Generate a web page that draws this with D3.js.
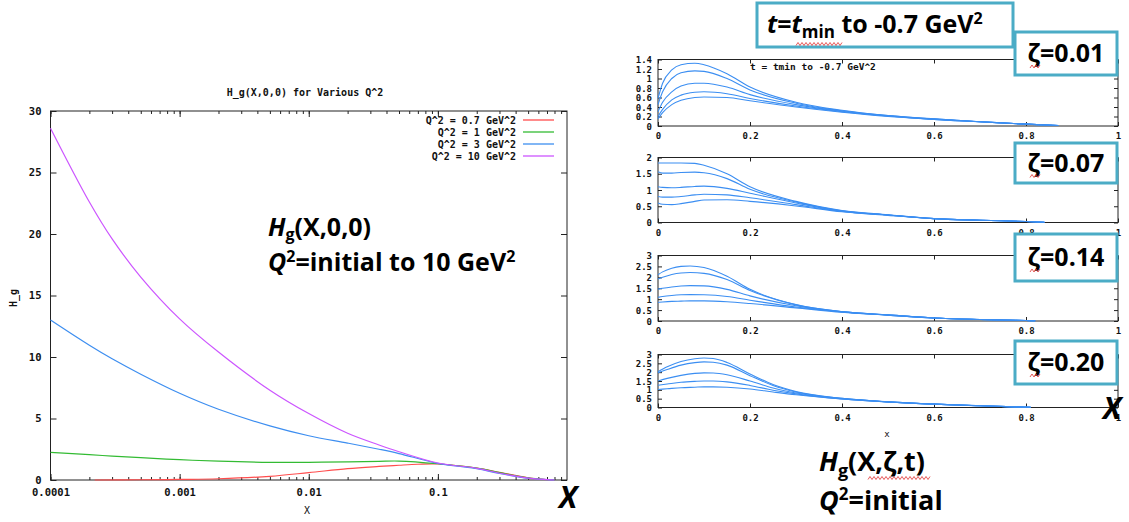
<!DOCTYPE html>
<html>
<head>
<meta charset="utf-8">
<script src="https://cdn.jsdelivr.net/npm/d3@7"></script>
<style>
  body { margin: 0; background: #fff; }
  svg { display: block; }
  .gp text { font-family: "DejaVu Sans Mono", monospace; font-weight: bold; fill: #111; }
  .note { font-family: "Open Sans", Lato, sans-serif; font-weight: 700; fill: #000; }
</style>
</head>
<body>
<div id="chart"></div>
<script>
// ---- left chart data: H_g(X,0,0) for various Q^2 ----
const seriesNames = ["Q^2 = 0.7 GeV^2", "Q^2 = 1 GeV^2", "Q^2 = 3 GeV^2", "Q^2 = 10 GeV^2"];
const seriesColors = ["#ff4d4d", "#33bb33", "#3d8ef0", "#cc55ff"];
const xCommon = [0.0001, 0.0002, 0.0003, 0.0005, 0.001, 0.002, 0.005, 0.01, 0.02, 0.035, 0.05, 0.1, 0.2, 0.3, 0.5, 0.7, 0.8];
const xRed = [0.00022, 0.0005, 0.001, 0.002, 0.005, 0.01, 0.02, 0.035, 0.05, 0.07, 0.1, 0.2, 0.3, 0.5, 0.7, 0.8];
const hgQ07 = [0.0, 0.02, 0.05, 0.1, 0.3, 0.6, 0.92, 1.1, 1.2, 1.28, 1.3, 0.97, 0.62, 0.18, 0.03, 0.0];
const hgQ1 = [2.25, 2.06, 1.94, 1.82, 1.65, 1.53, 1.44, 1.44, 1.47, 1.52, 1.54, 1.32, 0.97, 0.6, 0.17, 0.03, 0.0];
const hgQ3 = [13.0, 10.95, 9.85, 8.6, 7.05, 5.75, 4.4, 3.6, 3.0, 2.5, 2.15, 1.35, 0.92, 0.53, 0.14, 0.03, 0.0];
const hgQ10 = [28.6, 22.6, 19.6, 16.5, 13.1, 10.4, 7.3, 5.4, 3.8, 2.85, 2.3, 1.38, 0.95, 0.55, 0.15, 0.03, 0.0];
const leftXTicks = [0.0001, 0.001, 0.01, 0.1];
const leftXLabels = ["0.0001", "0.001", "0.01", "0.1"];
const leftYTicks = [0, 5, 10, 15, 20, 25, 30];

// ---- right panels: H_g(X,zeta,t), t = tmin .. -0.7 GeV^2 ----
const zetaLabels = ["0.01", "0.07", "0.14", "0.20"];
const xZ001 = [0, 0.01, 0.03, 0.05, 0.08, 0.1, 0.15, 0.2, 0.3, 0.4, 0.5, 0.6, 0.7, 0.8, 0.87];
const z001 = [
  [0.58, 0.9, 1.18, 1.29, 1.32, 1.29, 1.1, 0.82, 0.5, 0.33, 0.22, 0.15, 0.09, 0.04, 0.01],
  [0.45, 0.72, 1.0, 1.12, 1.16, 1.15, 1.0, 0.76, 0.48, 0.32, 0.22, 0.15, 0.09, 0.04, 0.01],
  [0.3, 0.5, 0.72, 0.84, 0.9, 0.9, 0.82, 0.66, 0.45, 0.31, 0.21, 0.14, 0.09, 0.04, 0.01],
  [0.2, 0.35, 0.55, 0.65, 0.71, 0.72, 0.68, 0.58, 0.42, 0.3, 0.21, 0.14, 0.09, 0.04, 0.01],
  [0.15, 0.28, 0.45, 0.54, 0.6, 0.61, 0.6, 0.53, 0.4, 0.29, 0.2, 0.14, 0.09, 0.04, 0.01]
];
const xZ007 = [0, 0.01, 0.03, 0.05, 0.08, 0.1, 0.15, 0.2, 0.3, 0.4, 0.5, 0.6, 0.7, 0.8, 0.84];
const z007 = [
  [1.83, 1.83, 1.83, 1.83, 1.82, 1.76, 1.5, 1.1, 0.65, 0.37, 0.24, 0.12, 0.07, 0.03, 0.01],
  [1.56, 1.52, 1.52, 1.54, 1.55, 1.53, 1.35, 1.02, 0.63, 0.36, 0.23, 0.12, 0.07, 0.03, 0.01],
  [1.1, 1.08, 1.07, 1.08, 1.11, 1.12, 1.05, 0.9, 0.6, 0.35, 0.23, 0.12, 0.07, 0.03, 0.01],
  [0.8, 0.78, 0.78, 0.8, 0.85, 0.87, 0.85, 0.76, 0.55, 0.34, 0.23, 0.12, 0.07, 0.03, 0.01],
  [0.6, 0.56, 0.55, 0.58, 0.65, 0.69, 0.7, 0.65, 0.51, 0.33, 0.22, 0.12, 0.07, 0.03, 0.01]
];
const xZ014 = [0, 0.01, 0.03, 0.05, 0.07, 0.1, 0.15, 0.2, 0.3, 0.4, 0.5, 0.6, 0.7, 0.8, 0.82];
const z014 = [
  [2.12, 2.25, 2.42, 2.5, 2.52, 2.45, 2.05, 1.45, 0.75, 0.43, 0.28, 0.14, 0.07, 0.02, 0.01],
  [1.92, 2.0, 2.13, 2.2, 2.22, 2.18, 1.9, 1.4, 0.74, 0.43, 0.28, 0.14, 0.07, 0.02, 0.01],
  [1.46, 1.5, 1.56, 1.6, 1.62, 1.61, 1.45, 1.15, 0.7, 0.42, 0.27, 0.14, 0.07, 0.02, 0.01],
  [1.08, 1.12, 1.17, 1.2, 1.21, 1.2, 1.12, 0.95, 0.64, 0.41, 0.27, 0.14, 0.07, 0.02, 0.01],
  [0.85, 0.87, 0.9, 0.91, 0.92, 0.92, 0.88, 0.8, 0.6, 0.4, 0.27, 0.14, 0.07, 0.02, 0.01]
];
const xZ020 = [0, 0.02, 0.05, 0.08, 0.1, 0.12, 0.15, 0.2, 0.25, 0.3, 0.4, 0.5, 0.6, 0.7, 0.81];
const z020 = [
  [2.02, 2.3, 2.6, 2.76, 2.8, 2.77, 2.55, 1.9, 1.3, 0.9, 0.52, 0.32, 0.19, 0.1, 0.01],
  [1.96, 2.15, 2.4, 2.54, 2.58, 2.56, 2.4, 1.8, 1.25, 0.88, 0.52, 0.32, 0.19, 0.1, 0.01],
  [1.5, 1.65, 1.82, 1.93, 1.96, 1.95, 1.85, 1.5, 1.1, 0.82, 0.5, 0.32, 0.19, 0.1, 0.01],
  [1.26, 1.33, 1.43, 1.48, 1.5, 1.5, 1.45, 1.25, 0.98, 0.77, 0.49, 0.31, 0.19, 0.1, 0.01],
  [1.02, 1.06, 1.12, 1.15, 1.17, 1.17, 1.15, 1.05, 0.88, 0.72, 0.48, 0.31, 0.19, 0.1, 0.01]
];
const rightXTicks = [0, 0.2, 0.4, 0.6, 0.8, 1];
const rightXLabels = ["0", "0.2", "0.4", "0.6", "0.8", "1"];
const yTicks14 = [0, 0.2, 0.4, 0.6, 0.8, 1, 1.2, 1.4];
const yTicks2 = [0, 0.5, 1, 1.5, 2];
const yTicks3 = [0, 0.5, 1, 1.5, 2, 2.5, 3];

const W = 1129, H = 522;
const svg = d3.select("#chart").append("svg").attr("width", W).attr("height", H);
const boxColor = "#4bacc6";

// ================= left chart =================
const gl = svg.append("g").attr("class", "gp");
const xL = d3.scaleLog().domain([1e-4, 1]).range([50.5, 567]);
const yL = d3.scaleLinear().domain([0, 30]).range([480, 111]);

gl.append("rect")
  .attr("x", 50.5).attr("y", 111)
  .attr("width", 567 - 50.5).attr("height", 480 - 111)
  .attr("fill", "none").attr("stroke", "#222").attr("stroke-width", 1);

const minorTicks = xL.ticks().filter(d => d < 1);

// bottom minor + major ticks, and labels
gl.append("g").attr("transform", "translate(0,480)")
  .call(d3.axisBottom(xL).tickValues(minorTicks).tickSize(-3).tickFormat(""))
  .call(g => g.select(".domain").remove());
gl.append("g").attr("transform", "translate(0,480)")
  .call(d3.axisBottom(xL).tickValues(leftXTicks).tickSize(-6).tickPadding(9)
    .tickFormat((d, i) => leftXLabels[i]))
  .call(g => g.select(".domain").remove())
  .call(g => g.selectAll("text").attr("font-size", 10.5).style("font-family", null));
// top mirrored ticks
gl.append("g").attr("transform", "translate(0,111)")
  .call(d3.axisTop(xL).tickValues(minorTicks).tickSize(-3).tickFormat(""))
  .call(g => g.select(".domain").remove());
gl.append("g").attr("transform", "translate(0,111)")
  .call(d3.axisTop(xL).tickValues(leftXTicks).tickSize(-6).tickFormat(""))
  .call(g => g.select(".domain").remove());
// y axes
gl.append("g").attr("transform", "translate(50.5,0)")
  .call(d3.axisLeft(yL).tickValues(leftYTicks).tickSize(-6).tickPadding(9))
  .call(g => g.select(".domain").remove())
  .call(g => g.selectAll("text").attr("font-size", 10.5).style("font-family", null));
gl.append("g").attr("transform", "translate(567,0)")
  .call(d3.axisRight(yL).tickValues(leftYTicks).tickSize(-6).tickFormat(""))
  .call(g => g.select(".domain").remove());
gl.selectAll(".tick line").attr("stroke", "#222");

gl.append("text").attr("x", 305).attr("y", 96).attr("text-anchor", "middle")
  .attr("font-size", 10).text("H_g(X,0,0) for Various Q^2");
gl.append("text").attr("transform", "translate(17,298) rotate(-90)")
  .attr("text-anchor", "middle").attr("font-size", 10).text("H_g");
gl.append("text").attr("x", 307).attr("y", 514).attr("text-anchor", "middle")
  .attr("font-size", 10).style("font-weight", "normal").text("X");

const leftSeries = [
  { xs: xRed, ys: hgQ07 },
  { xs: xCommon, ys: hgQ1 },
  { xs: xCommon, ys: hgQ3 },
  { xs: xCommon, ys: hgQ10 }
];
const lineL = d3.line().x(d => xL(d[0])).y(d => yL(d[1])).curve(d3.curveCatmullRom.alpha(0.5));
leftSeries.forEach((s, i) => {
  gl.append("path")
    .datum(s.xs.map((x, j) => [x, s.ys[j]]))
    .attr("fill", "none").attr("stroke", seriesColors[i]).attr("stroke-width", 1.2)
    .attr("d", lineL);
});

// legend
const leg = gl.append("g");
seriesNames.forEach((name, i) => {
  const y = 120 + i * 12;
  leg.append("text").attr("x", 516).attr("y", y + 3.5).attr("text-anchor", "end")
    .attr("font-size", 10).text(name);
  leg.append("line").attr("x1", 523).attr("x2", 554).attr("y1", y).attr("y2", y)
    .attr("stroke", seriesColors[i]).attr("stroke-width", 1.3);
});

// annotation
const a1 = svg.append("text").attr("class", "note").attr("x", 268).attr("y", 236).attr("font-size", 25);
a1.append("tspan").attr("font-style", "italic").text("H");
a1.append("tspan").attr("dy", 4).attr("font-size", 16).text("g");
a1.append("tspan").attr("dy", -4).text("(X,0,0)");
const a2 = svg.append("text").attr("class", "note").attr("x", 268).attr("y", 271).attr("font-size", 25);
a2.append("tspan").attr("font-style", "italic").text("Q");
a2.append("tspan").attr("dy", -9).attr("font-size", 16).text("2");
a2.append("tspan").attr("dy", 9).text("=initial to 10 GeV");
a2.append("tspan").attr("dy", -9).attr("font-size", 16).text("2");
svg.append("text").attr("class", "note").attr("x", 568).attr("y", 508)
  .attr("text-anchor", "middle").attr("font-size", 30).attr("font-style", "italic")
  .attr("font-weight", 800).text("X");

// ================= right panels =================
const gr = svg.append("g").attr("class", "gp");
const xR = d3.scaleLinear().domain([0, 1]).range([658, 1118]);
const panels = [
  { top: 59.5, bottom: 126, max: 1.4, ticks: yTicks14, xs: xZ001, curves: z001 },
  { top: 157.5, bottom: 222.5, max: 2, ticks: yTicks2, xs: xZ007, curves: z007 },
  { top: 255.5, bottom: 321, max: 3, ticks: yTicks3, xs: xZ014, curves: z014 },
  { top: 354.5, bottom: 407.5, max: 3, ticks: yTicks3, xs: xZ020, curves: z020 }
];
panels.forEach(p => {
  const y = d3.scaleLinear().domain([0, p.max]).range([p.bottom, p.top]);
  const g = gr.append("g");
  g.append("rect").attr("x", 658).attr("y", p.top)
    .attr("width", 1118 - 658).attr("height", p.bottom - p.top)
    .attr("fill", "none").attr("stroke", "#222").attr("stroke-width", 1);
  g.append("g").attr("transform", `translate(0,${p.bottom})`)
    .call(d3.axisBottom(xR).tickValues(rightXTicks).tickSize(-4).tickPadding(7)
      .tickFormat((d, i) => rightXLabels[i]))
    .call(s => s.select(".domain").remove())
    .call(s => s.selectAll("text").attr("font-size", 9).style("font-family", null));
  g.append("g").attr("transform", `translate(0,${p.top})`)
    .call(d3.axisTop(xR).tickValues(rightXTicks).tickSize(-4).tickFormat(""))
    .call(s => s.select(".domain").remove());
  g.append("g").attr("transform", "translate(658,0)")
    .call(d3.axisLeft(y).tickValues(p.ticks).tickSize(-4).tickPadding(6).tickFormat(d3.format("")))
    .call(s => s.select(".domain").remove())
    .call(s => s.selectAll("text").attr("font-size", 9).attr("dy", "0.35em").style("font-family", null));
  g.append("g").attr("transform", "translate(1118,0)")
    .call(d3.axisRight(y).tickValues(p.ticks).tickSize(-4).tickFormat(""))
    .call(s => s.select(".domain").remove());
  g.selectAll(".tick line").attr("stroke", "#222");

  const line = d3.line().x(d => xR(d[0])).y(d => y(d[1])).curve(d3.curveMonotoneX);
  p.curves.forEach(c => {
    g.append("path")
      .datum(p.xs.map((x, j) => [x, c[j]]))
      .attr("fill", "none").attr("stroke", "#3b8ef2").attr("stroke-width", 1.1)
      .attr("d", line);
  });
});
gr.append("text").attr("x", 750).attr("y", 70).attr("font-size", 9.5)
  .text("t = tmin to -0.7 GeV^2");
gr.append("text").attr("x", 887).attr("y", 437).attr("text-anchor", "middle")
  .attr("font-size", 9).style("font-weight", "normal").text("x");

// wavy spell-check underline
function squiggle(x0, x1, y) {
  const pts = [];
  for (let x = x0, k = 0; x <= x1; x += 2, k++) pts.push([x, y + (k % 2 ? -1.5 : 1.5)]);
  svg.append("path").attr("d", d3.line()(pts)).attr("fill", "none")
    .attr("stroke", "#e03030").attr("stroke-width", 0.8);
}

// top t box
svg.append("rect").attr("x", 757).attr("y", 3).attr("width", 256).attr("height", 44)
  .attr("fill", "#fff").attr("stroke", boxColor).attr("stroke-width", 3);
const tt = svg.append("text").attr("class", "note").attr("x", 767).attr("y", 33).attr("font-size", 25);
tt.append("tspan").attr("font-style", "italic").text("t");
tt.append("tspan").text("=");
tt.append("tspan").attr("font-style", "italic").text("t");
tt.append("tspan").attr("dy", 5).attr("font-size", 17).text("min");
tt.append("tspan").attr("dy", -5).text(" to -0.7 GeV");
tt.append("tspan").attr("dy", -9).attr("font-size", 16).text("2");
squiggle(796, 842, 44);

// zeta boxes
const zetaBoxes = [
  { y: 32, h: 43 }, { y: 143, h: 40 }, { y: 234, h: 47 }, { y: 341, h: 43 }
];
zetaBoxes.forEach((b, i) => {
  svg.append("rect").attr("x", 1015).attr("y", b.y).attr("width", 102).attr("height", b.h)
    .attr("fill", "#fff").attr("stroke", boxColor).attr("stroke-width", 3);
  svg.append("text").attr("class", "note").attr("x", 1066).attr("y", b.y + b.h / 2 + 8.5)
    .attr("text-anchor", "middle").attr("font-size", 25).text("ζ=" + zetaLabels[i]);
  squiggle(1030, 1041, b.y + b.h / 2 + 13);
});

svg.append("text").attr("class", "note").attr("x", 1112).attr("y", 419)
  .attr("text-anchor", "middle").attr("font-size", 30).attr("font-style", "italic")
  .attr("font-weight", 800).text("X");

// bottom annotation
const b1 = svg.append("text").attr("class", "note").attr("x", 819).attr("y", 471).attr("font-size", 27);
b1.append("tspan").attr("font-style", "italic").text("H");
b1.append("tspan").attr("dy", 6).attr("font-size", 18).text("g");
b1.append("tspan").attr("dy", -6).text("(X,ζ,t)");
squiggle(868, 930, 478);
const b2 = svg.append("text").attr("class", "note").attr("x", 819).attr("y", 510).attr("font-size", 27);
b2.append("tspan").attr("font-style", "italic").text("Q");
b2.append("tspan").attr("dy", -10).attr("font-size", 17).text("2");
b2.append("tspan").attr("dy", 10).text("=initial");
</script>
</body>
</html>
